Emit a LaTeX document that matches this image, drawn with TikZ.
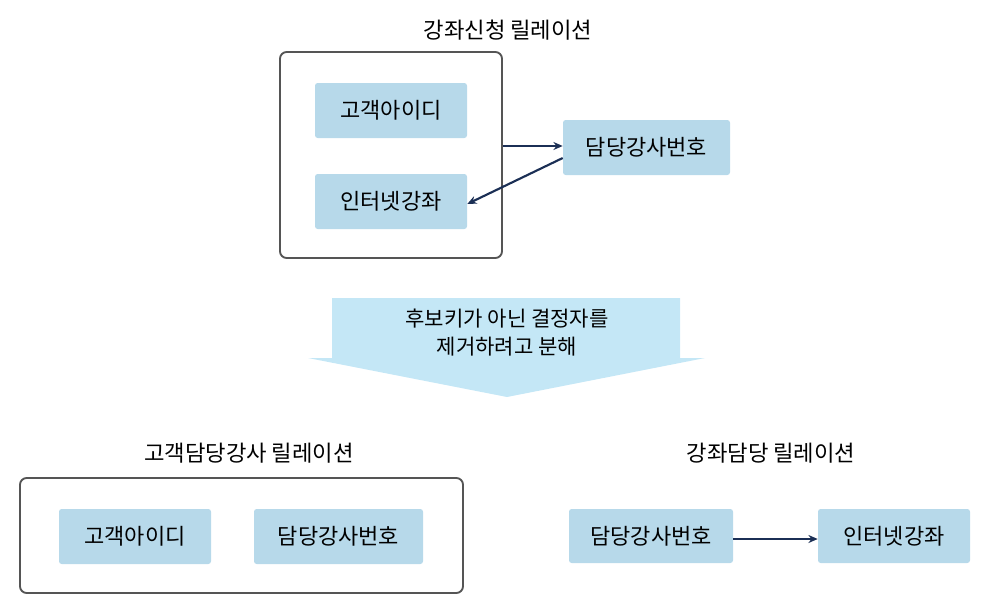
\documentclass[tikz,border=0pt]{standalone}
\usepackage{fontspec}
\setmainfont{Noto Sans CJK KR}
\usetikzlibrary{arrows.meta}
\definecolor{boxblue}{HTML}{B7D9EA}
\definecolor{arrowblue}{HTML}{C4E7F6}
\definecolor{navy}{HTML}{1B2F55}
\definecolor{frame}{HTML}{555555}
\tikzset{
  px/.style={x=0.75pt,y=-0.75pt},
  attr/.style={fill=boxblue,rounded corners=2pt,inner sep=0pt,font=\fontsize{16.5}{19}\selectfont},
  rel/.style={draw=frame,line width=1.4pt,rounded corners=5pt},
  ttl/.style={font=\fontsize{16.7}{19}\selectfont,inner sep=0pt},
  link/.style={draw=navy,line width=1.6pt,-{Stealth[length=7pt,width=6pt]}},
}
\begin{document}
\begin{tikzpicture}[px]
\useasboundingbox (0,0) rectangle (996,614);
% top relation
\node[ttl] (t1) at (508,30) {강좌신청 릴레이션};
\node[rel,minimum width=222*0.75pt,minimum height=206*0.75pt] (R1) at (391,155) {};
\node[attr,minimum width=152*0.75pt,minimum height=55*0.75pt] (a1) at (391,110.5) {고객아이디};
\node[attr,minimum width=152*0.75pt,minimum height=55*0.75pt] (a2) at (391,201.5) {인터넷강좌};
\node[attr,minimum width=167*0.75pt,minimum height=55*0.75pt] (a3) at (646.5,147.5) {담당강사번호};
\draw[link] (R1.east |- 0,146) -- (a3.west |- 0,146);
\draw[link] (a3.west |- 0,158) -- (a2.east |- 0,204);
% big arrow
\path[fill=arrowblue] (332,298) -- (680,298) -- (680,358) -- (705,358) -- (507,397) -- (308,358) -- (332,358) -- cycle;
\node[font=\fontsize{15.8}{18}\selectfont,align=center,inner sep=0pt] (txt) at (507,333) {후보키가 아닌 결정자를\\[3pt]제거하려고 분해};
% bottom-left relation
\node[ttl] (t2) at (249,453) {고객담당강사 릴레이션};
\node[rel,minimum width=443*0.75pt,minimum height=115*0.75pt] (R2) at (241.5,535.5) {};
\node[attr,minimum width=152*0.75pt,minimum height=55*0.75pt] (b1) at (135,536.5) {고객아이디};
\node[attr,minimum width=169*0.75pt,minimum height=55*0.75pt] (b2) at (338.5,536.5) {담당강사번호};
% bottom-right relation
\node[ttl] (t3) at (771,453) {강좌담당 릴레이션};
\node[attr,minimum width=164*0.75pt,minimum height=54*0.75pt] (c1) at (651,536) {담당강사번호};
\node[attr,minimum width=152*0.75pt,minimum height=54*0.75pt] (c2) at (894,536) {인터넷강좌};
\draw[link] (c1.east |- 0,539) -- (c2.west |- 0,539);
\end{tikzpicture}
\end{document}
